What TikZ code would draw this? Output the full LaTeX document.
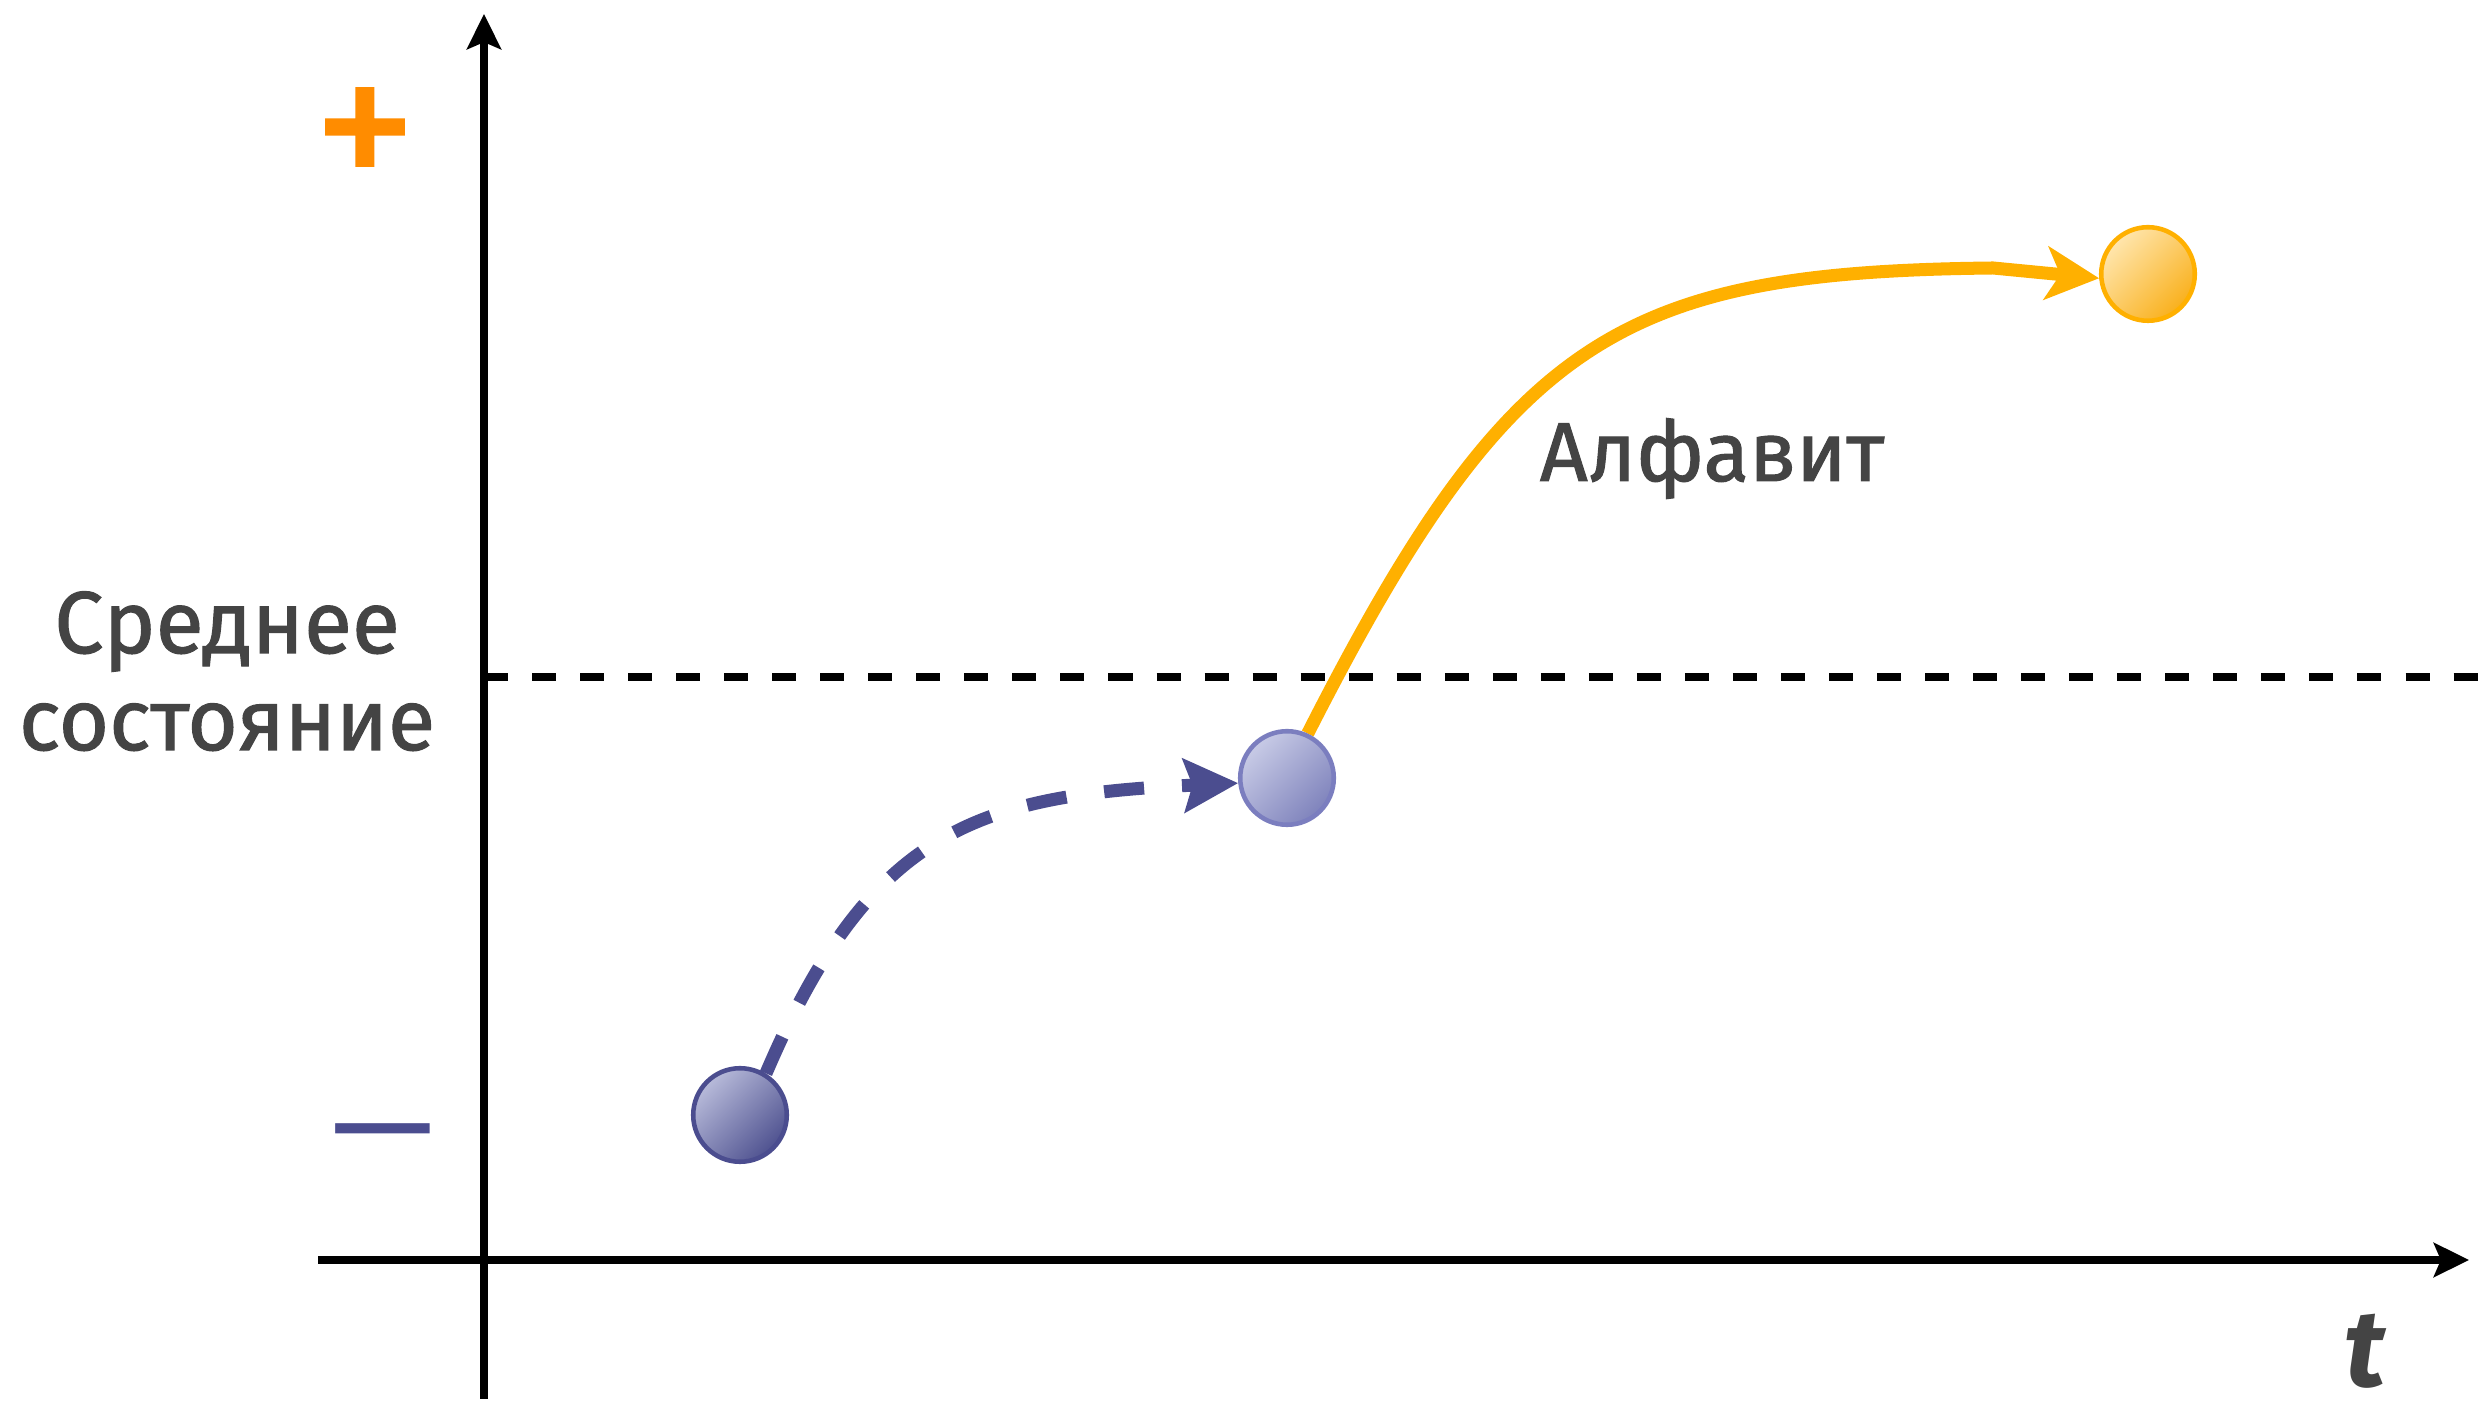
\documentclass[tikz,border=0pt]{standalone}
\usepackage{fontspec}
\setmainfont{Fira Sans}
\newfontfamily\lblfont[FakeBold=1.2]{Fira Sans}
\newfontfamily\plusfont[FakeBold=0.6]{Fira Sans}
\usetikzlibrary{arrows.meta}
\definecolor{txt}{HTML}{444444}
\definecolor{navy}{HTML}{4B4D8F}
\definecolor{lav}{HTML}{7B7EBF}
\definecolor{gold}{HTML}{FFB000}
\definecolor{plusorange}{HTML}{FF8C00}
\definecolor{cAlight}{HTML}{B8BBDA}
\definecolor{cAdark}{HTML}{4F5290}
\definecolor{cBlight}{HTML}{C8CBE6}
\definecolor{cBdark}{HTML}{7F83BC}
\definecolor{cClight}{HTML}{FFE6AE}
\definecolor{cCdark}{HTML}{F9B01C}
\pgfdeclarelayer{bg}
\pgfdeclarelayer{conn}
\pgfsetlayers{bg,conn,main}
\begin{document}
\begin{tikzpicture}[x=0.01cm,y=0.01cm,
  ball/.style={circle, inner sep=0pt, minimum size=0.935cm, line width=1.3pt},
  ballA/.style={ball, draw=navy, top color=cAlight, bottom color=cAdark, shading angle=45},
  ballB/.style={ball, draw=lav, top color=cBlight, bottom color=cBdark, shading angle=45},
  ballC/.style={ball, draw=gold, top color=cClight, bottom color=cCdark, shading angle=45},
  axisline/.style={line width=2.28pt, -{Stealth[length=10pt, width=9.7pt, inset=2pt]}},
  midline/.style={line width=2.28pt, dash pattern=on 6.83pt off 6.83pt},
  navyarrow/.style={navy, line width=3.7pt, dash pattern=on 11.4pt off 10.8pt,
     -{Stealth[length=15.4pt, width=15.1pt, inset=2.4pt]}},
  goldarrow/.style={gold, line width=3.7pt,
     -{Stealth[length=15.1pt, width=15.1pt, inset=4pt]}},
  lbl/.style={text=txt, inner sep=0pt},
]
\useasboundingbox (0,0) rectangle (2478,1406);
\begin{pgfonlayer}{bg}
  \fill[white] (0,0) rectangle (2478,1406);
\end{pgfonlayer}

% nodes
\node[ballA] (c1) at (740,291) {};
\node[ballB] (c2) at (1287,628) {};
\node[ballC] (c3) at (2148,1132) {};

\node[lbl, anchor=base, font=\lblfont\fontsize{25pt}{30pt}\selectfont] (mid1) at (227,753) {Среднее};
\node[lbl, anchor=base, font=\lblfont\fontsize{24.6pt}{30pt}\selectfont] (mid2) at (227,656) {состояние};
\node[lbl, anchor=base, font=\lblfont\fontsize{23.8pt}{30pt}\selectfont] (alf) at (1712,925) {Алфавит};
\node[lbl, anchor=base, font=\fontsize{31pt}{36pt}\selectfont\bfseries\itshape] (tl) at (2365,19) {t};
\node[text=plusorange, inner sep=0pt, font=\plusfont\fontsize{59.5pt}{64pt}\selectfont] (plus) at (365,1264) {+};
\node[text=navy, inner sep=0pt, font=\fontsize{37pt}{40pt}\selectfont] (minus) at (383,259) {—};

% axes
\coordinate (yb) at (484,7);
\coordinate (yt) at (484,1392);
\coordinate (xl) at (318,146);
\coordinate (xr) at (2469,146);
\coordinate (d0) at (484,729);
\coordinate (d1) at (2478,729);
\coordinate (kink) at (1993,1138);
\begin{pgfonlayer}{bg}
  \draw[axisline] (yb) -- (yt);
  \draw[axisline] (xl) -- (xr);
  \draw[midline] (d0) -- (d1);
\end{pgfonlayer}

\begin{pgfonlayer}{conn}
  \draw[navyarrow] (c1.58) .. controls (870,576) and (976,611) .. (c2.186);
  \draw[goldarrow] (c2.65) .. controls (1510,1070) and (1620,1134) .. (kink) -- (c3.185);
\end{pgfonlayer}
\end{tikzpicture}
\end{document}
